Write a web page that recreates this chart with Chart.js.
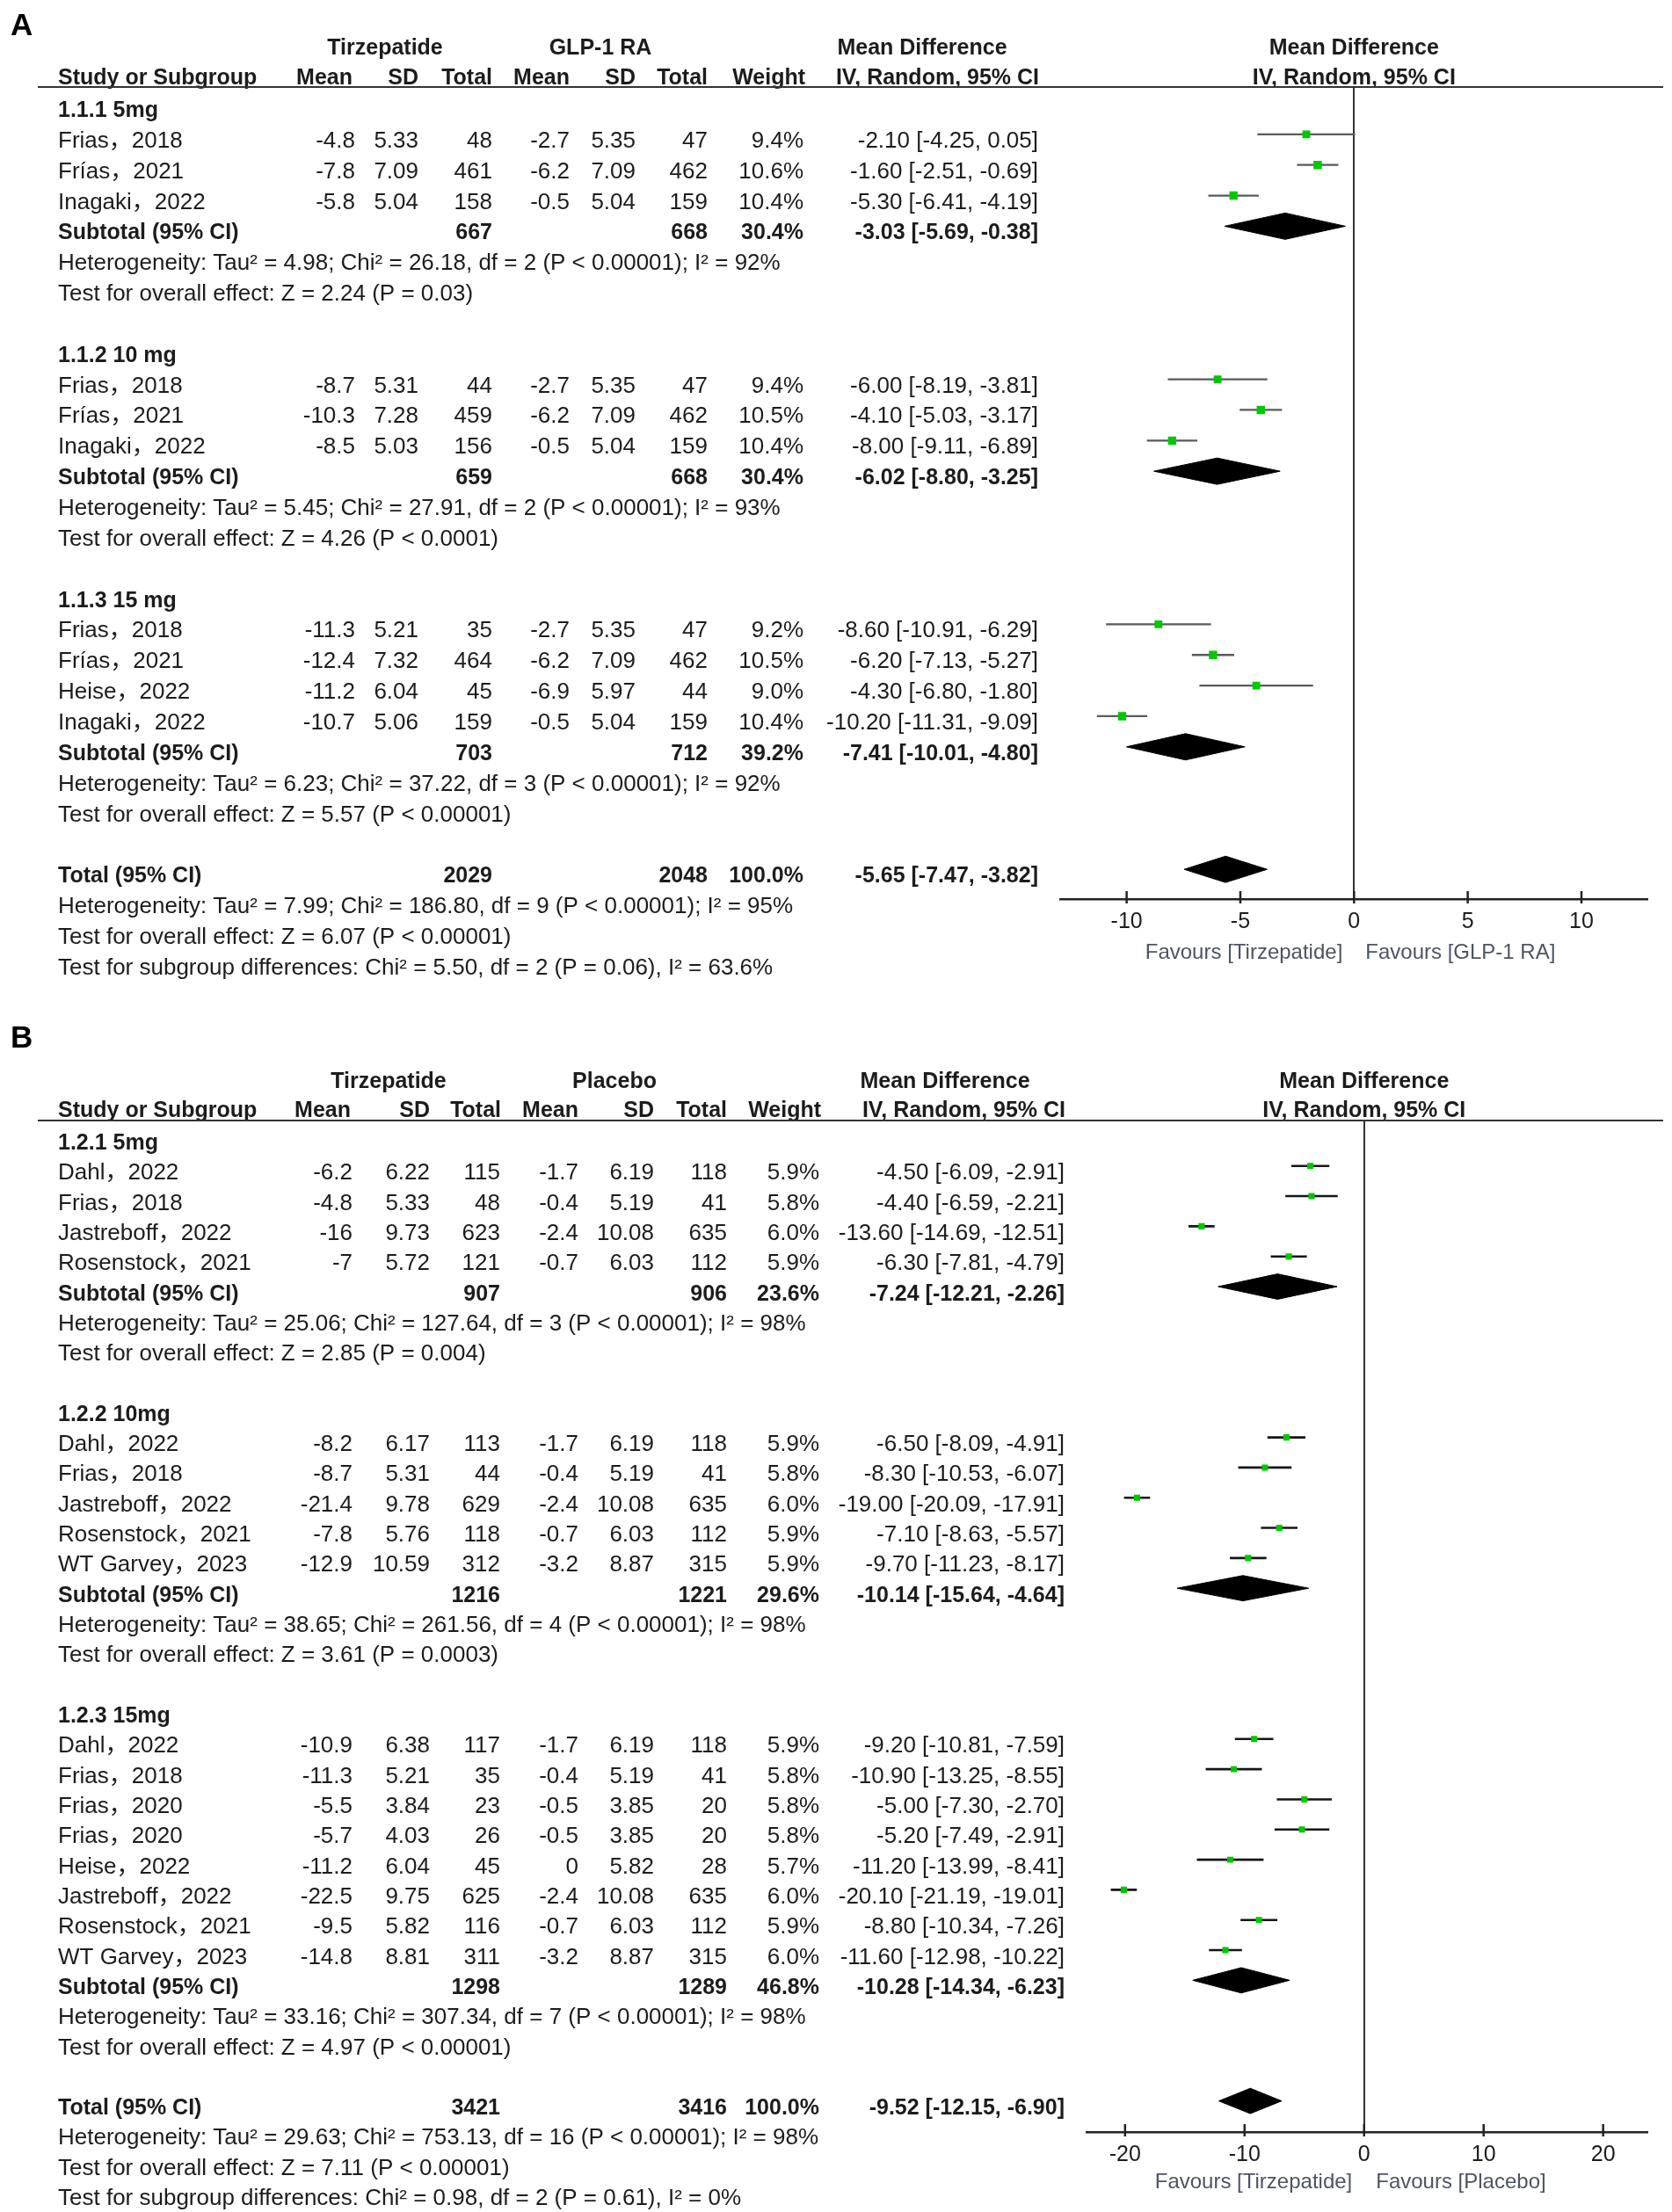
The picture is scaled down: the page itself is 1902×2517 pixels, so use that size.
<!DOCTYPE html>
<html>
<head>
<meta charset="utf-8">
<script src="https://cdn.jsdelivr.net/npm/chart.js@4.4.1/dist/chart.umd.min.js"></script>
<style>
  body { margin: 0; background: #fff; }
  canvas { display: block; }
</style>
</head>
<body>
<canvas id="forestA" width="1902" height="1140" style="width:1902px;height:1140px"></canvas>
<canvas id="forestB" width="1902" height="1377" style="width:1902px;height:1377px"></canvas>
<script>
// ---- panel A: tirzepatide vs GLP-1 RA ----
const aGroups = ["1.1.1 5mg", "1.1.2 10 mg", "1.1.3 15 mg"];
const aGroupOf = [0, 0, 0, 1, 1, 1, 2, 2, 2, 2];
const aStudies = ["Frias，2018", "Frías，2021", "Inagaki，2022",
  "Frias，2018", "Frías，2021", "Inagaki，2022",
  "Frias，2018", "Frías，2021", "Heise，2022", "Inagaki，2022"];
const aTirzMean = [-4.8, -7.8, -5.8, -8.7, -10.3, -8.5, -11.3, -12.4, -11.2, -10.7];
const aTirzSD = [5.33, 7.09, 5.04, 5.31, 7.28, 5.03, 5.21, 7.32, 6.04, 5.06];
const aTirzN = [48, 461, 158, 44, 459, 156, 35, 464, 45, 159];
const aCompMean = [-2.7, -6.2, -0.5, -2.7, -6.2, -0.5, -2.7, -6.2, -6.9, -0.5];
const aCompSD = [5.35, 7.09, 5.04, 5.35, 7.09, 5.04, 5.35, 7.09, 5.97, 5.04];
const aCompN = [47, 462, 159, 47, 462, 159, 47, 462, 44, 159];
const aWeight = [9.4, 10.6, 10.4, 9.4, 10.5, 10.4, 9.2, 10.5, 9.0, 10.4];
const aMD = [-2.10, -1.60, -5.30, -6.00, -4.10, -8.00, -8.60, -6.20, -4.30, -10.20];
const aLow = [-4.25, -2.51, -6.41, -8.19, -5.03, -9.11, -10.91, -7.13, -6.80, -11.31];
const aHigh = [0.05, -0.69, -4.19, -3.81, -3.17, -6.89, -6.29, -5.27, -1.80, -9.09];
const aSubTirzN = [667, 659, 703];
const aSubCompN = [668, 668, 712];
const aSubWeight = [30.4, 30.4, 39.2];
const aSubMD = [-3.03, -6.02, -7.41];
const aSubLow = [-5.69, -8.80, -10.01];
const aSubHigh = [-0.38, -3.25, -4.80];
const aSubHet = [
  "Heterogeneity: Tau² = 4.98; Chi² = 26.18, df = 2 (P < 0.00001); I² = 92%",
  "Heterogeneity: Tau² = 5.45; Chi² = 27.91, df = 2 (P < 0.00001); I² = 93%",
  "Heterogeneity: Tau² = 6.23; Chi² = 37.22, df = 3 (P < 0.00001); I² = 92%"];
const aSubTest = [
  "Test for overall effect: Z = 2.24 (P = 0.03)",
  "Test for overall effect: Z = 4.26 (P < 0.0001)",
  "Test for overall effect: Z = 5.57 (P < 0.00001)"];
const aTotalN = [2029, 2048];
const aTotalEffect = [-5.65, -7.47, -3.82];
const aTotalNotes = [
  "Heterogeneity: Tau² = 7.99; Chi² = 186.80, df = 9 (P < 0.00001); I² = 95%",
  "Test for overall effect: Z = 6.07 (P < 0.00001)",
  "Test for subgroup differences: Chi² = 5.50, df = 2 (P = 0.06), I² = 63.6%"];
const aTicks = [-10, -5, 0, 5, 10];

// ---- panel B: tirzepatide vs placebo ----
const bGroups = ["1.2.1 5mg", "1.2.2 10mg", "1.2.3 15mg"];
const bGroupOf = [0, 0, 0, 0, 1, 1, 1, 1, 1, 2, 2, 2, 2, 2, 2, 2, 2];
const bStudies = ["Dahl，2022", "Frias，2018", "Jastreboff，2022", "Rosenstock，2021",
  "Dahl，2022", "Frias，2018", "Jastreboff，2022", "Rosenstock，2021", "WT Garvey，2023",
  "Dahl，2022", "Frias，2018", "Frias，2020", "Frias，2020", "Heise，2022",
  "Jastreboff，2022", "Rosenstock，2021", "WT Garvey，2023"];
const bTirzMean = [-6.2, -4.8, -16, -7, -8.2, -8.7, -21.4, -7.8, -12.9,
  -10.9, -11.3, -5.5, -5.7, -11.2, -22.5, -9.5, -14.8];
const bTirzSD = [6.22, 5.33, 9.73, 5.72, 6.17, 5.31, 9.78, 5.76, 10.59,
  6.38, 5.21, 3.84, 4.03, 6.04, 9.75, 5.82, 8.81];
const bTirzN = [115, 48, 623, 121, 113, 44, 629, 118, 312, 117, 35, 23, 26, 45, 625, 116, 311];
const bCompMean = [-1.7, -0.4, -2.4, -0.7, -1.7, -0.4, -2.4, -0.7, -3.2,
  -1.7, -0.4, -0.5, -0.5, 0, -2.4, -0.7, -3.2];
const bCompSD = [6.19, 5.19, 10.08, 6.03, 6.19, 5.19, 10.08, 6.03, 8.87,
  6.19, 5.19, 3.85, 3.85, 5.82, 10.08, 6.03, 8.87];
const bCompN = [118, 41, 635, 112, 118, 41, 635, 112, 315, 118, 41, 20, 20, 28, 635, 112, 315];
const bWeight = [5.9, 5.8, 6.0, 5.9, 5.9, 5.8, 6.0, 5.9, 5.9, 5.9, 5.8, 5.8, 5.8, 5.7, 6.0, 5.9, 6.0];
const bMD = [-4.50, -4.40, -13.60, -6.30, -6.50, -8.30, -19.00, -7.10, -9.70,
  -9.20, -10.90, -5.00, -5.20, -11.20, -20.10, -8.80, -11.60];
const bLow = [-6.09, -6.59, -14.69, -7.81, -8.09, -10.53, -20.09, -8.63, -11.23,
  -10.81, -13.25, -7.30, -7.49, -13.99, -21.19, -10.34, -12.98];
const bHigh = [-2.91, -2.21, -12.51, -4.79, -4.91, -6.07, -17.91, -5.57, -8.17,
  -7.59, -8.55, -2.70, -2.91, -8.41, -19.01, -7.26, -10.22];
const bSubTirzN = [907, 1216, 1298];
const bSubCompN = [906, 1221, 1289];
const bSubWeight = [23.6, 29.6, 46.8];
const bSubMD = [-7.24, -10.14, -10.28];
const bSubLow = [-12.21, -15.64, -14.34];
const bSubHigh = [-2.26, -4.64, -6.23];
const bSubHet = [
  "Heterogeneity: Tau² = 25.06; Chi² = 127.64, df = 3 (P < 0.00001); I² = 98%",
  "Heterogeneity: Tau² = 38.65; Chi² = 261.56, df = 4 (P < 0.00001); I² = 98%",
  "Heterogeneity: Tau² = 33.16; Chi² = 307.34, df = 7 (P < 0.00001); I² = 98%"];
const bSubTest = [
  "Test for overall effect: Z = 2.85 (P = 0.004)",
  "Test for overall effect: Z = 3.61 (P = 0.0003)",
  "Test for overall effect: Z = 4.97 (P < 0.00001)"];
const bTotalN = [3421, 3416];
const bTotalEffect = [-9.52, -12.15, -6.90];
const bTotalNotes = [
  "Heterogeneity: Tau² = 29.63; Chi² = 753.13, df = 16 (P < 0.00001); I² = 98%",
  "Test for overall effect: Z = 7.11 (P < 0.00001)",
  "Test for subgroup differences: Chi² = 0.98, df = 2 (P = 0.61), I² = 0%"];
const bTicks = [-20, -10, 0, 10, 20];

const FONT = '"Liberation Sans", "Noto Sans CJK SC", Arial, sans-serif';
const INK = '#1c1c1c';

const panelA = {
  letter: "A", comparator: "GLP-1 RA", favours: ["Favours [Tirzepatide]", "Favours [GLP-1 RA]"],
  groups: aGroups, groupOf: aGroupOf, studies: aStudies,
  tzMean: aTirzMean, tzSD: aTirzSD, tzN: aTirzN, cMean: aCompMean, cSD: aCompSD, cN: aCompN,
  weight: aWeight, md: aMD, low: aLow, high: aHigh,
  subTzN: aSubTirzN, subCN: aSubCompN, subWeight: aSubWeight,
  subMD: aSubMD, subLow: aSubLow, subHigh: aSubHigh, subHet: aSubHet, subTest: aSubTest,
  totalN: aTotalN, totalEffect: aTotalEffect, totalNotes: aTotalNotes, ticks: aTicks
};
const panelB = {
  letter: "B", comparator: "Placebo", favours: ["Favours [Tirzepatide]", "Favours [Placebo]"],
  groups: bGroups, groupOf: bGroupOf, studies: bStudies,
  tzMean: bTirzMean, tzSD: bTirzSD, tzN: bTirzN, cMean: bCompMean, cSD: bCompSD, cN: bCompN,
  weight: bWeight, md: bMD, low: bLow, high: bHigh,
  subTzN: bSubTirzN, subCN: bSubCompN, subWeight: bSubWeight,
  subMD: bSubMD, subLow: bSubLow, subHigh: bSubHigh, subHet: bSubHet, subTest: bSubTest,
  totalN: bTotalN, totalEffect: bTotalEffect, totalNotes: bTotalNotes, ticks: bTicks
};

// layout (pixels inside each canvas)
const layoutA = {
  W: 1902, H: 1140, plotLeft: 1206.6, plotRight: 1874, plotTop: 99, plotBottom: 1023, axisH: 60,
  xMin: -12.9, xMax: 12.9, yTop: -0.545, yBottom: 25.97,
  letterX: 12, letterY: 40, head1Y: 62, head2Y: 96, ruleY: 99, ruleX0: 43, ruleX1: 1892,
  nameX: 66, cols: [404, 476, 560, 648, 723, 805, 914], mdX: 1181,
  headCols: [401, 476, 560, 648, 723, 805, 916], groupHeadX: [438, 683],
  mdHead1X: 1049, mdHead2X: 1182, baseOff: 15, favY: 1091, favGap: 13,
  diamondHalf: 0.43, ciColor: '#5a5a5a', ciWidth: 2.3, boxScale: 2.9, tickPad: 11
};
const layoutB = {
  W: 1902, H: 1377, plotLeft: 1236.3, plotRight: 1874, plotTop: 135, plotBottom: 1286, axisH: 60,
  xMin: -23.2, xMax: 23.7, yTop: -0.507, yBottom: 33.03,
  letterX: 12, letterY: 52, head1Y: 98, head2Y: 131, ruleY: 135, ruleX0: 43, ruleX1: 1892,
  nameX: 66, cols: [401, 489, 569, 658, 744, 827, 932], mdX: 1211,
  headCols: [399, 489, 570, 658, 744, 827, 934], groupHeadX: [442, 699],
  mdHead1X: 1075, mdHead2X: 1212, baseOff: 15.5, favY: 1350, favGap: 13.5,
  diamondHalf: 0.42, ciColor: '#151515', ciWidth: 2.6, boxScale: 2.9, tickPad: 11
};

function ci(md, lo, hi) {
  return md.toFixed(2) + ' [' + lo.toFixed(2) + ', ' + hi.toFixed(2) + ']';
}

function buildRows(p) {
  const rows = [];
  let r = 0;
  p.groups.forEach((g, gi) => {
    rows.push({ r: r++, kind: 'group', label: g });
    p.groupOf.forEach((go, i) => { if (go === gi) rows.push({ r: r++, kind: 'study', i }); });
    rows.push({ r: r++, kind: 'sub', gi });
    rows.push({ r: r++, kind: 'note', text: p.subHet[gi] });
    rows.push({ r: r++, kind: 'note', text: p.subTest[gi] });
    r++;
  });
  rows.push({ r: r++, kind: 'total' });
  p.totalNotes.forEach(t => rows.push({ r: r++, kind: 'note', text: t }));
  return rows;
}

function makeForest(id, p, L) {
  const rows = buildRows(p);
  const studyRows = rows.filter(x => x.kind === 'study');
  const pooledRows = rows.filter(x => x.kind === 'sub' || x.kind === 'total');

  // CI whiskers as one broken line
  const ciData = [];
  studyRows.forEach(s => {
    ciData.push({ x: p.low[s.i], y: s.r }, { x: p.high[s.i], y: s.r }, { x: null, y: null });
  });

  const diamonds = pooledRows.map(row => {
    const e = row.kind === 'total' ? p.totalEffect : [p.subMD[row.gi], p.subLow[row.gi], p.subHigh[row.gi]];
    return {
      data: [{ x: e[1], y: row.r }, { x: e[0], y: row.r - L.diamondHalf }, { x: e[2], y: row.r },
             { x: e[0], y: row.r + L.diamondHalf }, { x: e[1], y: row.r }],
      showLine: true, fill: 'shape', tension: 0, order: 3,
      borderColor: '#000', backgroundColor: '#000', borderWidth: 1, pointRadius: 0
    };
  });

  const tablePlugin = {
    id: 'table' + id,
    afterDraw(chart) {
      const ctx = chart.ctx;
      const ys = chart.scales.y, xs = chart.scales.x;
      const x0 = xs.getPixelForValue(0);
      const T = (s, x, y, align, bold, size, color) => {
        ctx.font = (bold ? 'bold ' : '') + (size || (bold ? 25 : 26)) + 'px ' + FONT;
        ctx.fillStyle = color || INK;
        ctx.textAlign = align;
        ctx.textBaseline = 'alphabetic';
        ctx.fillText(String(s), x, y);
      };
      const seg = (xa, ya, xb, yb, w, c) => {
        ctx.beginPath();
        ctx.lineWidth = w; ctx.strokeStyle = c;
        ctx.moveTo(xa, ya); ctx.lineTo(xb, yb); ctx.stroke();
      };
      ctx.save();
      T(p.letter, L.letterX, L.letterY, 'left', true, 35, '#000');

      T('Tirzepatide', L.groupHeadX[0], L.head1Y, 'center', true);
      T(p.comparator, L.groupHeadX[1], L.head1Y, 'center', true);
      T('Mean Difference', L.mdHead1X, L.head1Y, 'center', true);
      T('Mean Difference', x0, L.head1Y, 'center', true);
      T('Study or Subgroup', L.nameX, L.head2Y, 'left', true);
      ['Mean', 'SD', 'Total', 'Mean', 'SD', 'Total', 'Weight'].forEach((h, k) => {
        T(h, L.headCols[k], L.head2Y, 'right', true);
      });
      T('IV, Random, 95% CI', L.mdHead2X, L.head2Y, 'right', true);
      T('IV, Random, 95% CI', x0, L.head2Y, 'center', true);
      seg(L.ruleX0, L.ruleY, L.ruleX1, L.ruleY, 2, '#333');

      rows.forEach(row => {
        const by = ys.getPixelForValue(row.r) + L.baseOff;
        if (row.kind === 'group') {
          T(row.label, L.nameX, by, 'left', true);
        } else if (row.kind === 'study') {
          const i = row.i;
          T(p.studies[i], L.nameX, by, 'left', false);
          [p.tzMean[i], p.tzSD[i], p.tzN[i], p.cMean[i], p.cSD[i], p.cN[i]].forEach((v, k) => {
            T(v, L.cols[k], by, 'right', false);
          });
          T(p.weight[i].toFixed(1) + '%', L.cols[6], by, 'right', false);
          T(ci(p.md[i], p.low[i], p.high[i]), L.mdX, by, 'right', false);
        } else if (row.kind === 'sub') {
          const g = row.gi;
          T('Subtotal (95% CI)', L.nameX, by, 'left', true);
          T(p.subTzN[g], L.cols[2], by, 'right', true);
          T(p.subCN[g], L.cols[5], by, 'right', true);
          T(p.subWeight[g].toFixed(1) + '%', L.cols[6], by, 'right', true);
          T(ci(p.subMD[g], p.subLow[g], p.subHigh[g]), L.mdX, by, 'right', true);
        } else if (row.kind === 'total') {
          T('Total (95% CI)', L.nameX, by, 'left', true);
          T(p.totalN[0], L.cols[2], by, 'right', true);
          T(p.totalN[1], L.cols[5], by, 'right', true);
          T('100.0%', L.cols[6], by, 'right', true);
          T(ci(p.totalEffect[0], p.totalEffect[1], p.totalEffect[2]), L.mdX, by, 'right', true);
        } else {
          T(row.text, L.nameX, by, 'left', false);
        }
      });

      // tick marks crossing the axis
      xs.ticks.forEach(t => {
        const px = xs.getPixelForValue(t.value);
        seg(px, xs.top - 9, px, xs.top + 5, 2.5, '#222');
      });
      T(p.favours[0], x0 - L.favGap, L.favY, 'right', false, 24, '#4c5463');
      T(p.favours[1], x0 + L.favGap, L.favY, 'left', false, 24, '#4c5463');
      ctx.restore();
    }
  };

  return new Chart(document.getElementById(id), {
    type: 'scatter',
    data: {
      datasets: [
        {
          data: studyRows.map(s => ({ x: p.md[s.i], y: s.r })),
          pointStyle: 'rect', order: 1,
          pointRadius: studyRows.map(s => L.boxScale * Math.sqrt(p.weight[s.i]) / Math.SQRT2),
          backgroundColor: '#00c800', borderWidth: 0, showLine: false
        },
        {
          data: ciData, showLine: true, spanGaps: false, tension: 0, order: 2,
          borderColor: L.ciColor, borderWidth: L.ciWidth, pointRadius: 0, fill: false
        },
        ...diamonds
      ]
    },
    options: {
      responsive: false,
      devicePixelRatio: 1,
      animation: false,
      events: [],
      layout: {
        padding: {
          left: L.plotLeft, right: L.W - L.plotRight,
          top: L.plotTop, bottom: L.H - L.plotBottom - L.axisH
        }
      },
      plugins: { legend: { display: false }, tooltip: { enabled: false } },
      scales: {
        x: {
          type: 'linear', min: L.xMin, max: L.xMax,
          afterBuildTicks: (s) => { s.ticks = p.ticks.map(v => ({ value: v })); },
          afterFit: (s) => { s.height = L.axisH; },
          grid: {
            drawTicks: false, drawOnChartArea: true, lineWidth: 2,
            color: (c) => (c.tick && c.tick.value === 0) ? '#333' : 'rgba(0,0,0,0)'
          },
          border: { display: true, color: '#222', width: 2.5 },
          ticks: { padding: L.tickPad, color: INK, font: { family: FONT, size: 25 } }
        },
        y: { type: 'linear', display: false, reverse: true, min: L.yTop, max: L.yBottom }
      }
    },
    plugins: [tablePlugin]
  });
}

makeForest('forestA', panelA, layoutA);
makeForest('forestB', panelB, layoutB);
</script>
</body>
</html>
